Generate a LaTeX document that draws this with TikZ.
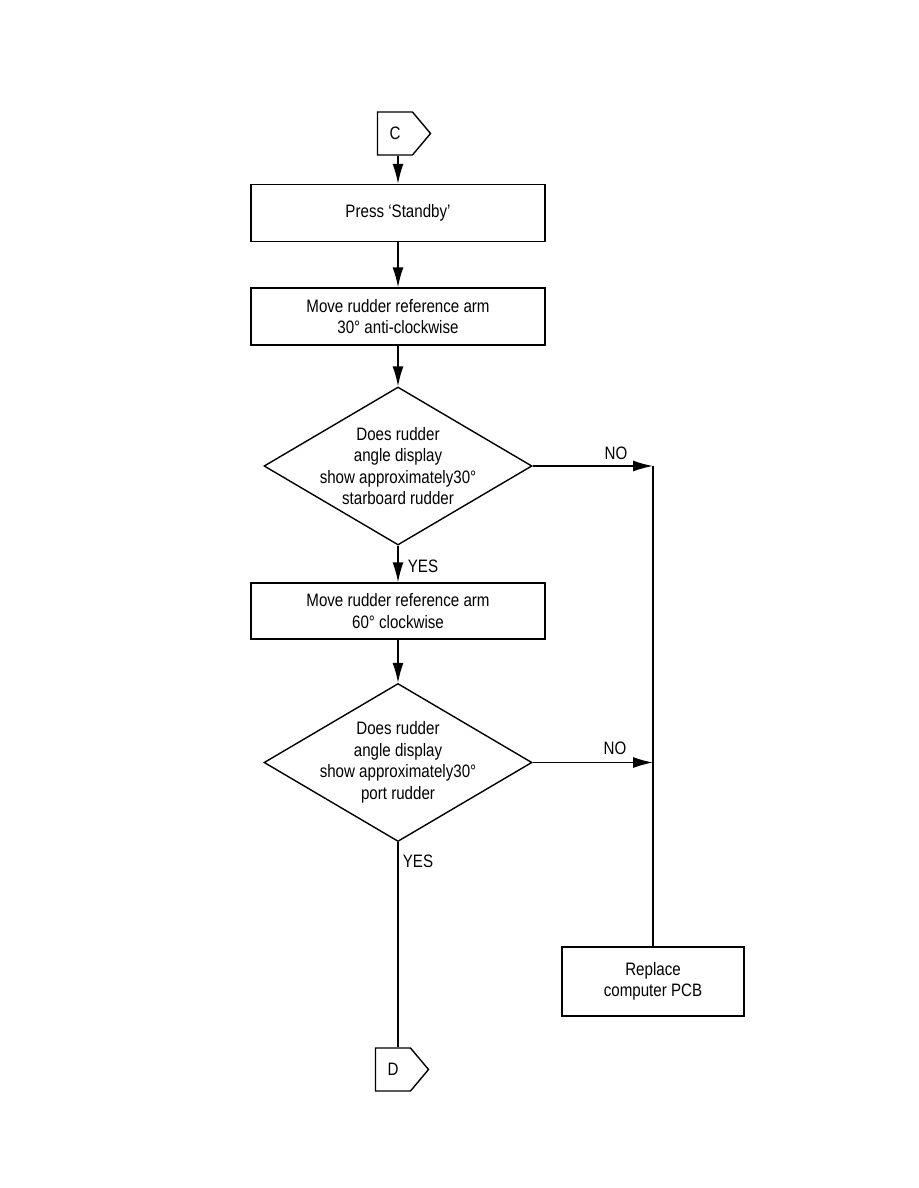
\documentclass[tikz,border=0pt]{standalone}
\usepackage{fontspec}
\setmainfont{Liberation Sans}[FakeStretch=0.84]
\usetikzlibrary{arrows.meta,backgrounds}
\usetikzlibrary{shapes,shapes.geometric,shapes.symbols}
\pgfdeclarelayer{edgelayer}
\pgfdeclarelayer{nodelayer}
\pgfsetlayers{background,edgelayer,nodelayer,main}
\newcommand{\flowfont}{\fontsize{18}{21.5}\selectfont}
\tikzstyle{none}=[inner sep=0mm]
\tikzstyle{every picture}=[x=1pt,y=-1pt]
\tikzstyle{stepbox}=[draw=black,line width=1.4pt,shape=rectangle,minimum width=294pt,minimum height=57pt,align=center,font=\flowfont]
\tikzstyle{endbox}=[stepbox,minimum width=182pt,minimum height=69pt]
\tikzstyle{query}=[draw=black,line width=1.4pt,shape=diamond,minimum width=268pt,minimum height=158pt,inner sep=0pt]
\tikzstyle{offpage}=[draw=black,line width=1.4pt,shape=signal,signal to=east,signal pointer angle=100,minimum width=53pt,minimum height=43pt,inner sep=0pt,font=\flowfont]
\tikzstyle{lbl}=[inner sep=0mm,font=\flowfont]
\tikzstyle{edge}=[line width=1.4pt]
\tikzstyle{diredge}=[edge,-{Latex[length=20pt,width=11pt]}]

\begin{document}
\begin{tikzpicture}
	\useasboundingbox (0,0) rectangle (918,1188);
	\begin{pgfonlayer}{nodelayer}
		\node [style=offpage] (C) at (395,133.5) {C};
		\node [style=stepbox] (B1) at (398,213) {Press `Standby'};
		\node [style=stepbox] (B2) at (398,316.5) {Move rudder reference arm\\30° anti-clockwise};
		\node [style=query, label={[align=center,font=\flowfont]center:Does rudder\\angle display\\show approximately30°\\starboard rudder}] (Q1) at (398,466) {};
		\node [style=stepbox, minimum height=56pt] (B3) at (398,611) {Move rudder reference arm\\60° clockwise};
		\node [style=query, label={[align=center,font=\flowfont]center:Does rudder\\angle display\\show approximately30°\\port rudder}] (Q2) at (398,762.5) {};
		\node [style=endbox] (R) at (653,981.5) {Replace\\computer PCB};
		\node [style=offpage] (D) at (393,1069.5) {D};
		\node [style=lbl] (yes1) at (423,566) {YES};
		\node [style=lbl] (yes2) at (418,861) {YES};
		\node [style=lbl] (no1) at (616,453) {NO};
		\node [style=lbl] (no2) at (615,748) {NO};
		\coordinate (j1) at (Q1.east -| R.north);
		\coordinate (j2) at (Q2.east -| R.north);
	\end{pgfonlayer}
	\begin{pgfonlayer}{edgelayer}
		\draw [style=diredge] (C.south -| B1.north) to (B1.north);
		\draw [style=diredge] (B1) to (B2);
		\draw [style=diredge] (B2) to (Q1.north);
		\draw [style=diredge] (Q1) to (B3);
		\draw [style=diredge] (B3) to (Q2.north);
		\draw [style=edge] (Q2.south) to (D.north -| Q2.south);
		\draw [style=diredge] (Q1.east) to (j1);
		\draw [style=diredge] (Q2.east) to (j2);
		\draw [style=edge] (R.north) to (j1);
	\end{pgfonlayer}
\end{tikzpicture}
\end{document}
